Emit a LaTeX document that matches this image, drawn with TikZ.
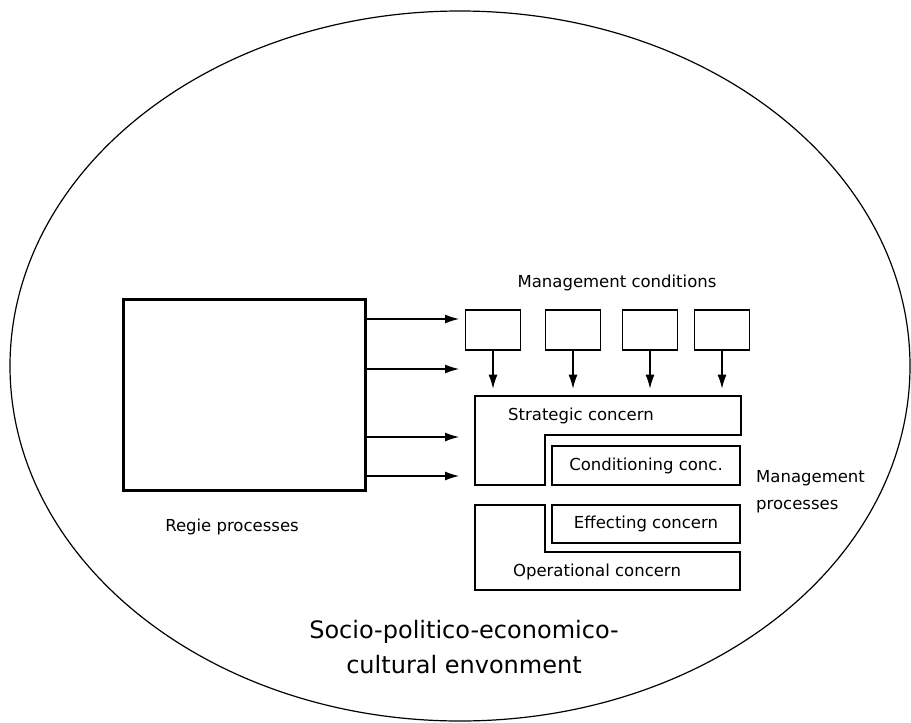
\documentclass[tikz,border=0pt]{standalone}
\usepackage{fontspec}
\setmainfont{DejaVu Sans}
\usetikzlibrary{arrows.meta}
\begin{document}
\begin{tikzpicture}[x=1pt,y=-1pt,
  thin line/.style={line width=1.3pt},
  flow/.style={line width=1.2pt,-{Latex[length=14pt,width=9pt]}},
  cond/.style={draw,thin line,minimum width=55pt,minimum height=40pt,inner sep=0pt},
  lbl/.style={font=\fontsize{16.5}{20}\selectfont,inner sep=0pt},
  envlbl/.style={font=\fontsize{24}{35}\selectfont,align=center,inner sep=0pt}]
\useasboundingbox (0,0) rectangle (911,723);
% environment
\draw[line width=1.2pt] (460,366) ellipse [x radius=450, y radius=355];
% regie block
\node[draw,line width=3pt,minimum width=242pt,minimum height=191pt,inner sep=0pt] (regie) at (244,394.5) {};
\node[lbl] (regielbl) at (232,527) {Regie processes};
% management conditions
\node[lbl] (mclbl) at (617,283) {Management conditions};
\node[cond] (c1) at (493,330) {};
\node[cond] (c2) at (573,330) {};
\node[cond] (c3) at (650,330) {};
\node[cond] (c4) at (722,330) {};
\foreach \i in {1,...,4}{
  \coordinate (d\i) at ([yshift=-38pt]c\i.south);
  \draw[flow] (c\i.south) -- (d\i);
}
% arrows from regie block
\coordinate (a1) at (459,319);
\coordinate (a2) at (459,369);
\coordinate (a3) at (459,437);
\coordinate (a4) at (459,476);
\foreach \i in {1,...,4}{
  \draw[flow] (regie.east |- a\i) -- (a\i);
}
% strategic concern
\draw[thin line] (475,396) -- (741,396) -- (741,435) -- (545,435) -- (545,485) -- (475,485) -- cycle;
\node[lbl] (strat) at (581,416) {Strategic concern};
\node[draw,thin line,minimum width=188pt,minimum height=39pt,inner sep=0pt] (condbox) at (646,465.5) {};
\node[lbl] at (condbox) {Conditioning conc.};
% operational concern
\draw[thin line] (475,505) -- (545,505) -- (545,552) -- (740,552) -- (740,590) -- (475,590) -- cycle;
\node[lbl] (oper) at (597,572) {Operational concern};
\node[draw,thin line,minimum width=188pt,minimum height=38pt,inner sep=0pt] (effbox) at (646,524) {};
\node[lbl] at (effbox) {Effecting concern};
% management processes
\node[lbl,align=left,anchor=west,font=\fontsize{16.5}{27}\selectfont] (mp) at (756,492) {Management\\processes};
% environment label
\node[envlbl] (env) at (464,647) {Socio-politico-economico-\\cultural envonment};
\end{tikzpicture}
\end{document}
